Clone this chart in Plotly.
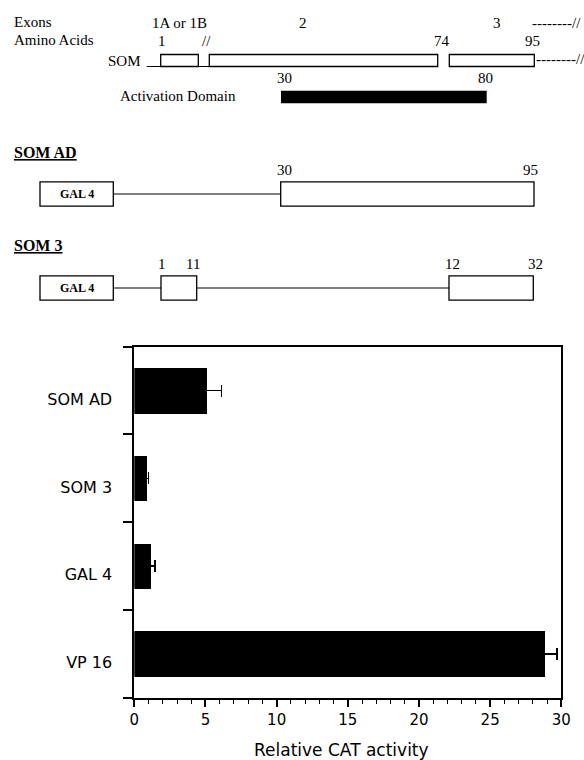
import plotly.graph_objects as go

# ---------------- bar chart data ----------------
categories = ["SOM AD", "SOM 3", "GAL 4", "VP 16"]
activity = [5.13, 0.90, 1.18, 28.90]
activity_err = [1.00, 0.08, 0.26, 0.78]
x_ticks = [0, 5, 10, 15, 20, 25, 30]

# ---------------- schematic data (schematic units) ----------------
# header labels
head_text = ["Exons", "Amino Acids"]
head_x = [12, 12]
head_y = [22, 40]
# exon labels
exon_text = ["1A or 1B", "2", "3"]
exon_x = [179.5, 303, 497]
exon_y = [23, 23, 23]
# amino acid labels over SOM
aa_text = ["1", "//", "74", "95"]
aa_x = [161.5, 206.5, 441.7, 532.5]
aa_y = [41, 41, 41, 41]
# SOM exon boxes
som_x0 = [160.7, 209.3, 449.3]
som_x1 = [198.3, 437.7, 534.3]
som_y0 = 54.5
som_y1 = 66.5
# activation domain
ad_text = ["30", "80"]
ad_x = [284, 485.5]
ad_start, ad_end = 281, 486.7
# constructs
con_names = ["SOM AD", "SOM 3"]
con_title_y = [152, 245]
con_mid_y = [194, 288]
con_boxes_x0 = [[280.7], [161, 449]]
con_boxes_x1 = [[534.0], [196.7, 533.3]]
con_lab_text = [["30", "95"], ["1", "11", "12", "32"]]
con_lab_x = [[284, 530.5], [161.5, 193, 452.5, 535.8]]
gal_x0, gal_x1 = 40, 113.3

W, H = 584, 760
SERIF = "Liberation Serif"
SANS = "DejaVu Sans"

fig = go.Figure()
fig.add_trace(go.Bar(
    x=activity, y=list(range(len(categories))), orientation="h",
    width=0.52, marker=dict(color="black", line=dict(width=0)),
    error_x=dict(type="data", array=activity_err, color="black",
                 thickness=1.5, width=6),
    showlegend=False, hoverinfo="skip",
))

shapes = []
annotations = []

def txt(s, x, y, size=15, xanchor="center", family=SERIF):
    annotations.append(dict(text=s, x=x, y=y, xref="x2", yref="y2",
                            showarrow=False, xanchor=xanchor, yanchor="middle",
                            font=dict(family=family, size=size, color="black")))

def rect(x0, x1, y0, y1, fill="white", lw=1.3):
    shapes.append(dict(type="rect", xref="x2", yref="y2", x0=x0, x1=x1, y0=y0, y1=y1,
                       line=dict(color="black", width=lw), fillcolor=fill))

def line(x0, x1, y0, y1, lw=1):
    shapes.append(dict(type="line", xref="x2", yref="y2", x0=x0, x1=x1, y0=y0, y1=y1,
                       line=dict(color="black", width=lw)))

for t, x, y in zip(head_text, head_x, head_y):
    txt(t, x, y, xanchor="left")
for t, x, y in zip(exon_text, exon_x, exon_y):
    txt(t, x, y)
txt("--------//", 530, 23, xanchor="left")
for t, x, y in zip(aa_text, aa_x, aa_y):
    txt(t, x, y)
txt("SOM", 143, 61, xanchor="right")
line(146.7, som_x0[0], som_y1, som_y1)
line(som_x1[0], som_x0[1], som_y1, som_y1)
for x0, x1 in zip(som_x0, som_x1):
    rect(x0, x1, som_y0, som_y1)
txt("--------//", som_x1[-1], 59, xanchor="left")
for t, x in zip(ad_text, ad_x):
    txt(t, x, 78)
txt("Activation Domain", 238.3, 96, xanchor="right")
rect(ad_start, ad_end, 90.7, 103.3, fill="black", lw=0)

for name, ty, my, bx0, bx1, lt, lx in zip(con_names, con_title_y, con_mid_y,
                                         con_boxes_x0, con_boxes_x1,
                                         con_lab_text, con_lab_x):
    txt("<b><u>" + name + "</u></b>", 11.7, ty, size=16, xanchor="left")
    rect(gal_x0, gal_x1, my - 12.2, my + 12.2)
    txt("<b>GAL 4</b>", (gal_x0 + gal_x1) / 2, my, size=12)
    prev = gal_x1
    for x0, x1 in zip(bx0, bx1):
        line(prev, x0, my, my)
        rect(x0, x1, my - 12.2, my + 12.2)
        prev = x1
    for t, x in zip(lt, lx):
        txt(t, x, my - 24.5)

# axis title
annotations.append(dict(text="Relative CAT activity", x=341.5 / W, y=1 - 750 / H,
                        xref="paper", yref="paper", showarrow=False,
                        xanchor="center", yanchor="middle",
                        font=dict(family=SANS, size=17, color="black")))

fig.update_layout(
    width=W, height=H, template="none",
    paper_bgcolor="white", plot_bgcolor="white",
    margin=dict(l=0, r=0, t=0, b=0, autoexpand=False),
    bargap=0,
    shapes=shapes, annotations=annotations,
    xaxis=dict(domain=[134.3 / W, 561.3 / W], range=[0, 30], tickvals=x_ticks,
               ticks="outside", ticklen=7, tickwidth=1.5, tickcolor="black",
               showline=True, linecolor="black", linewidth=1.8, mirror=True,
               showgrid=False, zeroline=False, automargin=False,
               tickfont=dict(family=SANS, size=15, color="black"),
               minor=dict(dtick=1, ticks="outside", ticklen=4, tickwidth=1.2,
                          tickcolor="black", showgrid=False),
               anchor="y"),
    yaxis=dict(domain=[1 - 697.7 / H, 1 - 346.7 / H], range=[3.5, -0.5],
               tickvals=[i + 0.1 for i in range(len(categories))],
               ticktext=categories, ticks="",
               showline=True, linecolor="black", linewidth=1.8, mirror=True,
               showgrid=False, zeroline=False, automargin=False,
               tickfont=dict(family=SANS, size=16, color="black"),
               ticklabelstandoff=17,
               minor=dict(tickvals=[-0.5, 0.5, 1.5, 2.5, 3.5], ticks="outside",
                          ticklen=9, tickwidth=1.5, tickcolor="black", showgrid=False),
               anchor="x"),
    xaxis2=dict(domain=[0, 1], range=[0, W], visible=False, anchor="y2",
                fixedrange=True),
    yaxis2=dict(domain=[1 - 342 / H, 1], range=[342, 0], visible=False,
                anchor="x2", fixedrange=True),
)

fig.write_html(
    "out.html",
    config={"displayModeBar": False},
    post_script="document.body.style.margin='0';document.body.style.overflow='hidden';",
)
